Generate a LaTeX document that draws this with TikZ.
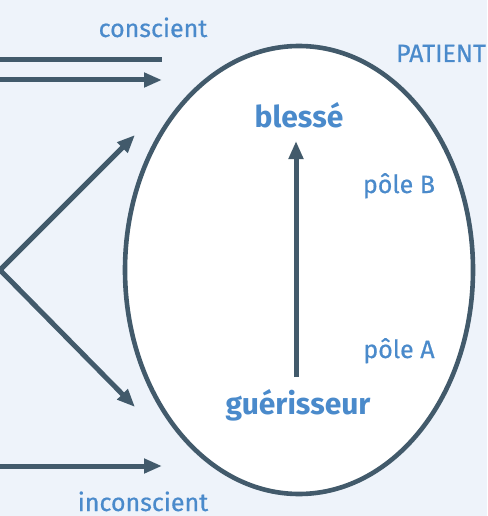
\documentclass[tikz,border=0pt]{standalone}
\usepackage{fontspec}
\setmainfont{Fira Sans}
\newfontfamily\medfont[FakeBold=0.6]{Fira Sans}
\usetikzlibrary{arrows.meta}
\definecolor{bgc}{HTML}{EEF3FA}
\definecolor{linec}{HTML}{425A6B}
\definecolor{txtc}{HTML}{4A8ACB}
\tikzset{
  conn/.style={draw=linec, line width=5pt},
  arr/.style={conn, -{Triangle[length=18pt,width=14pt]}},
  lbl/.style={text=txtc, font=\medfont\fontsize{25}{28}\selectfont, inner sep=0pt},
  blbl/.style={text=txtc, font=\fontsize{30}{33}\selectfont\bfseries, inner sep=0pt},
}
\begin{document}
\begin{tikzpicture}[x=1pt,y=-1pt]
\useasboundingbox (0,0) rectangle (487,516);
\fill[bgc] (0,0) rectangle (487,516);
% ellipse
\draw[linec, line width=4.6pt, fill=white] (299,270) ellipse [x radius=174, y radius=224];
\node[circle, minimum size=0pt, inner sep=0pt] (patient) at (299,270) {};
% coordinates
\coordinate (c1a) at (0,60);
\coordinate (c1b) at (162,60);
\coordinate (c2a) at (0,80);
\coordinate (c2b) at (162,80);
\coordinate (c3a) at (0,466);
\coordinate (c3b) at (162,466);
\coordinate (v) at (0,270);
\coordinate (vu) at (135,135);
\coordinate (vd) at (135,407);
% labels
\node[lbl, anchor=base] (conscient) at (153,37) {conscient};
\node[lbl, anchor=base] (inconscient) at (143,511) {inconscient};
\node[lbl, anchor=base] (patientlbl) at (441,62) {PATIENT};
\node[lbl, anchor=base] (poleB) at (399,193) {pôle B};
\node[lbl, anchor=base] (poleA) at (399,358) {pôle A};
\node[blbl, anchor=base] (blesse) at (299,128) {blessé};
\node[blbl, anchor=base] (guer) at (298,414) {guérisseur};
\coordinate (gtop) at (296,377);
\coordinate (btop) at (296,141);
% connectors
\draw[conn] (c1a) -- (c1b);
\draw[arr] (c2a) -- (c2b);
\draw[arr] (c3a) -- (c3b);
\draw[arr] (v) -- (vu);
\draw[arr] (v) -- (vd);
\draw[arr] (gtop) -- (btop);
\end{tikzpicture}
\end{document}
